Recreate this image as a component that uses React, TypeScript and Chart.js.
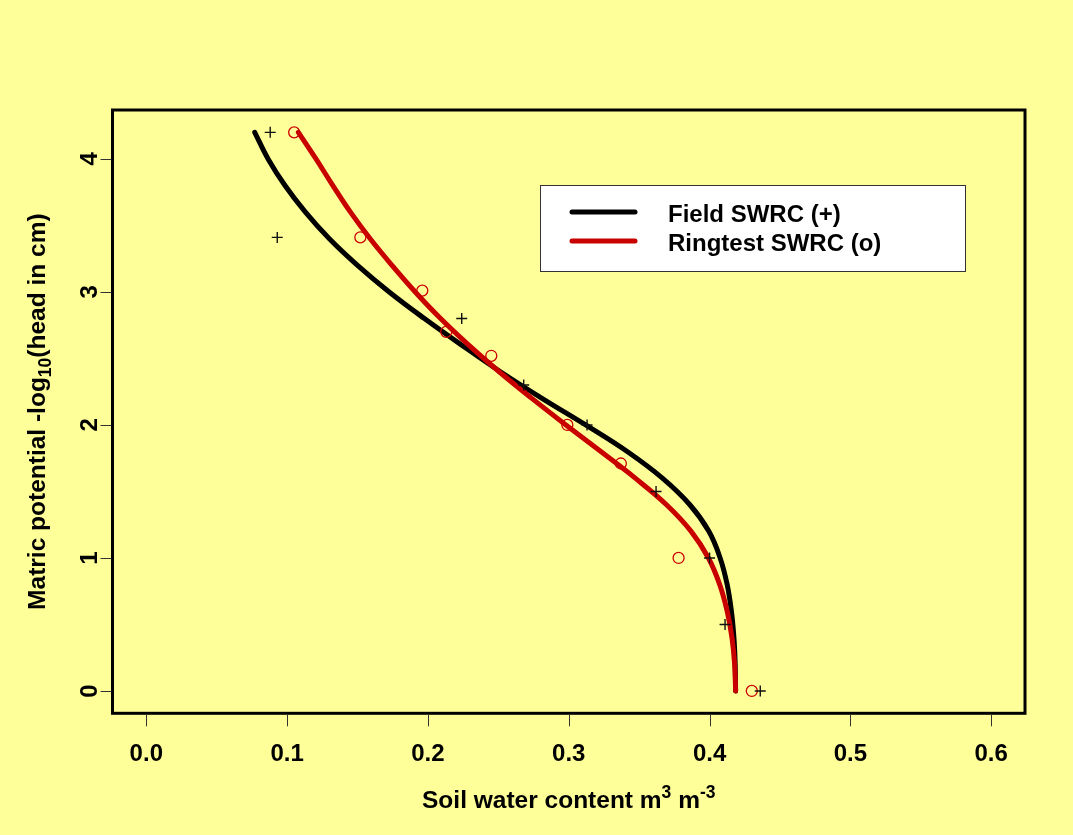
import React, { useEffect, useRef } from "react";
import { Chart, registerables } from "chart.js";

Chart.register(...registerables);

// ---- data ----
const xTicks = [0, 0.1, 0.2, 0.3, 0.4, 0.5, 0.6];
const xTickLabels = ["0.0", "0.1", "0.2", "0.3", "0.4", "0.5", "0.6"];
const yTicks = [0, 1, 2, 3, 4];
const yTickLabels = ["0", "1", "2", "3", "4"];

const fieldPtsX = [0.088, 0.093, 0.224, 0.268, 0.313, 0.362, 0.4, 0.411, 0.436];
const fieldPtsY = [4.2, 3.41, 2.8, 2.3, 2.0, 1.5, 1.0, 0.5, 0];

const ringPtsX = [0.105, 0.152, 0.196, 0.213, 0.245, 0.299, 0.337, 0.378, 0.43];
const ringPtsY = [4.2, 3.41, 3.01, 2.7, 2.52, 2.0, 1.71, 1.0, 0];

const curveY = [4.2, 4.0, 3.8, 3.6, 3.4, 3.2, 3.0, 2.8, 2.6, 2.4, 2.2, 2.0, 1.8, 1.6, 1.4, 1.2, 1.0, 0.8, 0.6, 0.4, 0.2, 0];
const fieldCurveX = [0.077, 0.0865, 0.0985, 0.113, 0.13, 0.15, 0.1725, 0.1975, 0.224, 0.2515, 0.281, 0.312, 0.3415, 0.3665, 0.386, 0.3995, 0.4075, 0.4125, 0.4155, 0.4173, 0.4182, 0.4185];
const ringCurveX = [0.108, 0.1205, 0.1325, 0.145, 0.159, 0.1745, 0.191, 0.209, 0.229, 0.2506, 0.2738, 0.298, 0.3228, 0.3472, 0.3694, 0.3869, 0.3992, 0.4072, 0.4125, 0.4159, 0.4178, 0.4185];

const legendLabels = ["Field SWRC (+)", "Ringtest SWRC (o)"];
const seriesColors = ["#000000", "#C80000"];

const toXY = (xs: number[], ys: number[]) => xs.map((x, i) => ({ x, y: ys[i] }));

const FONT = '"Liberation Sans", Arial, Helvetica, sans-serif';
const font = (s: number) => `bold ${s}px ${FONT}`;

type Run = { t: string; s: number; dy: number };

function drawRuns(ctx: CanvasRenderingContext2D, runs: Run[], cx: number, y: number) {
  let total = 0;
  const widths = runs.map((r) => {
    ctx.font = font(r.s);
    const w = ctx.measureText(r.t).width;
    total += w;
    return w;
  });
  let x = cx - total / 2;
  ctx.textAlign = "left";
  ctx.textBaseline = "alphabetic";
  runs.forEach((r, i) => {
    ctx.font = font(r.s);
    ctx.fillText(r.t, x, y + r.dy);
    x += widths[i];
  });
}

const decorPlugin = {
  id: "decor",
  beforeDraw(chart: any) {
    const ctx = chart.ctx as CanvasRenderingContext2D;
    ctx.save();
    ctx.fillStyle = "#FFFF99";
    ctx.fillRect(0, 0, chart.width, chart.height);
    ctx.restore();
  },
  afterDraw(chart: any) {
    const ctx = chart.ctx as CanvasRenderingContext2D;
    const { left, right, top, bottom } = chart.chartArea;
    const xs = chart.scales.x;
    const ys = chart.scales.y;
    ctx.save();

    // box
    ctx.strokeStyle = "#000";
    ctx.lineWidth = 3;
    ctx.strokeRect(left, top, right - left, bottom - top);

    // ticks
    ctx.strokeStyle = "#333";
    ctx.lineWidth = 1;
    xTicks.forEach((v) => {
      const px = Math.round(xs.getPixelForValue(v)) + 0.5;
      ctx.beginPath();
      ctx.moveTo(px, bottom + 1.5);
      ctx.lineTo(px, bottom + 13);
      ctx.stroke();
    });
    yTicks.forEach((v) => {
      const py = Math.round(ys.getPixelForValue(v)) + 0.5;
      ctx.beginPath();
      ctx.moveTo(left - 1.5, py);
      ctx.lineTo(left - 12, py);
      ctx.stroke();
    });

    // tick labels
    ctx.fillStyle = "#000";
    ctx.font = font(24);
    ctx.textAlign = "center";
    ctx.textBaseline = "alphabetic";
    xTicks.forEach((v, i) => {
      ctx.fillText(xTickLabels[i], xs.getPixelForValue(v), 761);
    });
    yTicks.forEach((v, i) => {
      ctx.save();
      ctx.translate(97, ys.getPixelForValue(v));
      ctx.rotate(-Math.PI / 2);
      ctx.fillText(yTickLabels[i], 0, 0);
      ctx.restore();
    });

    // axis titles
    const cx = (left + right) / 2;
    drawRuns(
      ctx,
      [
        { t: "Soil water content m", s: 24.5, dy: 0 },
        { t: "3", s: 17.5, dy: -10 },
        { t: " m", s: 24.5, dy: 0 },
        { t: "-3", s: 17.5, dy: -10 },
      ],
      cx,
      808
    );
    ctx.save();
    ctx.translate(45, (top + bottom) / 2);
    ctx.rotate(-Math.PI / 2);
    drawRuns(
      ctx,
      [
        { t: "Matric potential -log", s: 24.5, dy: 0 },
        { t: "10", s: 17.5, dy: 6 },
        { t: "(head in cm)", s: 24.5, dy: 0 },
      ],
      0,
      0
    );
    ctx.restore();

    // legend
    ctx.fillStyle = "#FFFFFF";
    ctx.fillRect(540.5, 185.5, 425, 86);
    ctx.strokeStyle = "#333";
    ctx.lineWidth = 1;
    ctx.strokeRect(540.5, 185.5, 425, 86);
    const rowY = [212, 241];
    const baseY = [222, 251];
    legendLabels.forEach((lab, i) => {
      ctx.strokeStyle = seriesColors[i];
      ctx.lineWidth = 5;
      ctx.lineCap = "round";
      ctx.beginPath();
      ctx.moveTo(572, rowY[i]);
      ctx.lineTo(635, rowY[i]);
      ctx.stroke();
      ctx.fillStyle = "#000";
      ctx.font = font(24);
      ctx.textAlign = "left";
      ctx.fillText(lab, 668, baseY[i]);
    });

    ctx.restore();
  },
};

export default function App() {
  const ref = useRef<HTMLCanvasElement | null>(null);
  useEffect(() => {
    if (!ref.current) return;
    const chart = new Chart(ref.current, {
      type: "scatter",
      data: {
        datasets: [
          {
            label: "Field points",
            data: toXY(fieldPtsX, fieldPtsY),
            pointStyle: "cross",
            pointRadius: 5.5,
            pointBorderWidth: 1.4,
            borderColor: "#111",
            backgroundColor: "#111",
            showLine: false,
            order: 0,
          } as any,
          {
            label: "Ringtest points",
            data: toXY(ringPtsX, ringPtsY),
            pointStyle: "circle",
            pointRadius: 5.5,
            pointBorderWidth: 1.3,
            borderColor: "#CC0000",
            backgroundColor: "rgba(0,0,0,0)",
            showLine: false,
            order: 1,
          } as any,
          {
            label: legendLabels[1],
            data: toXY(ringCurveX, curveY),
            showLine: true,
            pointRadius: 0,
            borderColor: seriesColors[1],
            borderWidth: 5,
            borderCapStyle: "round",
            borderJoinStyle: "round",
            tension: 0.4,
            order: 2,
          } as any,
          {
            label: legendLabels[0],
            data: toXY(fieldCurveX, curveY),
            showLine: true,
            pointRadius: 0,
            borderColor: seriesColors[0],
            borderWidth: 5,
            borderCapStyle: "round",
            borderJoinStyle: "round",
            tension: 0.4,
            order: 3,
          } as any,
        ],
      },
      options: {
        responsive: false,
        animation: false,
        devicePixelRatio: 1,
        events: [],
        layout: { padding: { left: 112.5, right: 48, top: 110, bottom: 121.7 } },
        scales: {
          x: { type: "linear", min: -0.024, max: 0.624, display: false },
          y: { type: "linear", min: -0.168, max: 4.368, display: false },
        },
        plugins: {
          legend: { display: false },
          tooltip: { enabled: false },
        },
      },
      plugins: [decorPlugin],
    });
    return () => chart.destroy();
  }, []);
  return (
    <div style={{ position: "absolute", left: 0, top: 0, width: 1073, height: 835 }}>
      <canvas ref={ref} width={1073} height={835} style={{ width: 1073, height: 835, display: "block" }} />
    </div>
  );
}
